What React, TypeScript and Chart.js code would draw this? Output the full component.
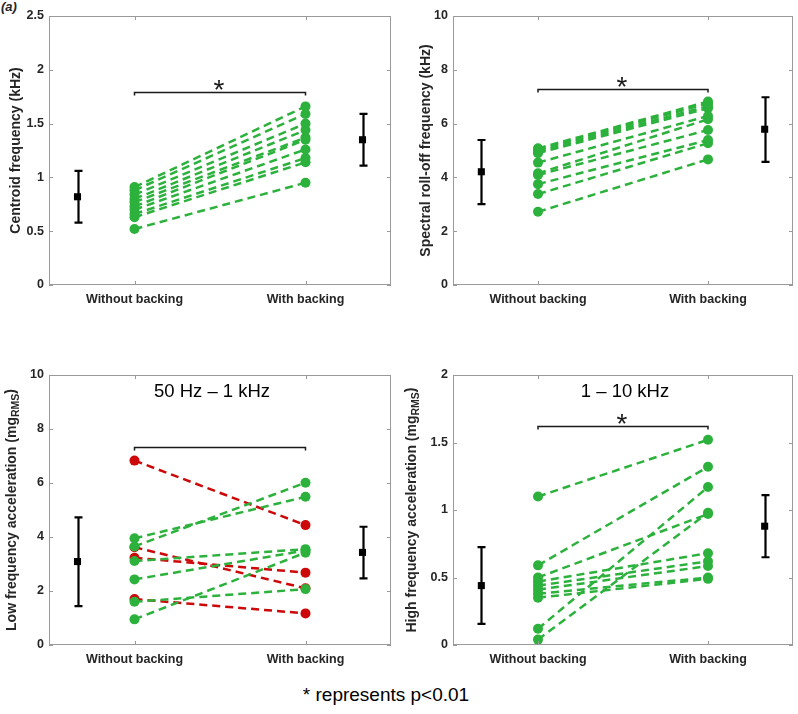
import React, { useEffect, useRef } from 'react';
import { Chart, registerables } from 'chart.js';

Chart.register(...registerables);

// ---------- data ----------
const categories = ['Without backing', 'With backing'];
const categoryX = [1, 2];
const meanX = [2 / 3, 7 / 3];

const centroidWithout = [0.52, 0.63, 0.66, 0.70, 0.73, 0.77, 0.80, 0.84, 0.88, 0.91];
const centroidWith = [0.95, 1.14, 1.18, 1.26, 1.35, 1.37, 1.44, 1.50, 1.59, 1.66];
const centroidMean = [0.82, 1.35];
const centroidLow = [0.58, 1.11];
const centroidHigh = [1.06, 1.59];

const rolloffWithout = [2.72, 3.38, 3.75, 4.09, 4.15, 4.55, 4.90, 4.96, 5.02, 5.08];
const rolloffWith = [4.67, 5.27, 5.39, 5.76, 6.16, 6.28, 6.57, 6.65, 6.75, 6.82];
const rolloffMean = [4.21, 5.79];
const rolloffLow = [3.01, 4.58];
const rolloffHigh = [5.39, 6.98];

const lowFreqWithout = [3.95, 3.65, 3.11, 2.43, 1.60, 0.95, 6.83, 3.62, 3.23, 1.70];
const lowFreqWith = [5.49, 6.01, 3.55, 3.50, 2.07, 3.42, 4.44, 2.10, 2.68, 1.17];
const lowFreqMean = [3.09, 3.43];
const lowFreqLow = [1.44, 2.47];
const lowFreqHigh = [4.73, 4.38];

const highFreqWithout = [1.10, 0.59, 0.50, 0.47, 0.44, 0.41, 0.38, 0.35, 0.12, 0.04];
const highFreqWith = [1.52, 1.32, 0.97, 0.68, 0.62, 0.585, 0.50, 0.49, 1.17, 0.98];
const highFreqMean = [0.44, 0.88];
const highFreqLow = [0.156, 0.65];
const highFreqHigh = [0.725, 1.11];

const yMaxes = [2.5, 10, 10, 2];
const ySteps = [0.5, 2, 2, 0.5];
const bracketLevels = [1.79, 7.27, 7.35, 1.62];
const significant = [true, true, false, true];

// ---------- styles ----------
const GREEN = 'rgb(44,178,60)';
const RED = 'rgb(204,8,8)';
const FONT = '"Liberation Sans", Arial, Helvetica, sans-serif';
const TEXT = '#262626';
const BOX = '#9a9a9a';

type PanelProps = {
  left: number; top: number; width: number; height: number;
  yAxisWidth: number; padRight: number; padTop: number; xAxisHeight: number;
  yMax: number; yStep: number;
  without: number[]; withB: number[];
  mean: number[]; lo: number[]; hi: number[];
  bracketY: number; sig: boolean;
  yTitle: string; yTitleSub?: string; yTitleAfter?: string; yTitleX: number;
  title?: string; titleX?: number; titleY?: number;
};

function Panel(p: PanelProps) {
  const ref = useRef<HTMLCanvasElement>(null);
  useEffect(() => {
    const canvas = ref.current!;
    const n = p.without.length;
    const idx = Array.from({ length: n }, (_, i) => i);
    const ups = idx.filter((i) => p.withB[i] >= p.without[i]);
    const downs = idx.filter((i) => p.withB[i] < p.without[i]);
    const datasets: any[] = [];
    for (const i of [...ups, ...downs]) {
      const col = p.withB[i] >= p.without[i] ? GREEN : RED;
      datasets.push({
        data: [
          { x: categoryX[0], y: p.without[i] },
          { x: categoryX[1], y: p.withB[i] },
        ],
        showLine: true,
        borderColor: col,
        borderWidth: 2.5,
        borderDash: [8, 5],
        pointRadius: 5,
        pointHoverRadius: 5,
        pointBackgroundColor: col,
        pointBorderWidth: 0,
      });
    }
    datasets.push({
      data: meanX.map((x, i) => ({ x, y: p.mean[i] })),
      showLine: false,
      pointStyle: 'rect',
      pointRadius: 5,
      pointHoverRadius: 5,
      pointBackgroundColor: '#000',
      pointBorderWidth: 0,
    });

    const decor = {
      id: 'decor',
      beforeDatasetsDraw(chart: any) {
        const { ctx, scales } = chart;
        const x = scales.x, y = scales.y;
        ctx.save();
        ctx.strokeStyle = '#000';
        ctx.lineWidth = 2.2;
        for (let i = 0; i < meanX.length; i++) {
          const px = Math.round(x.getPixelForValue(meanX[i])) + 0.5;
          const pl = y.getPixelForValue(p.lo[i]);
          const ph = y.getPixelForValue(p.hi[i]);
          ctx.beginPath();
          ctx.moveTo(px, pl); ctx.lineTo(px, ph);
          ctx.moveTo(px - 4, pl); ctx.lineTo(px + 4, pl);
          ctx.moveTo(px - 4, ph); ctx.lineTo(px + 4, ph);
          ctx.stroke();
        }
        // bracket
        const by = Math.round(y.getPixelForValue(p.bracketY)) + 0.5;
        const bx1 = x.getPixelForValue(categoryX[0]);
        const bx2 = x.getPixelForValue(categoryX[1]);
        ctx.strokeStyle = '#1a1a1a';
        ctx.lineWidth = 1.5;
        ctx.beginPath();
        ctx.moveTo(bx1, by + 3); ctx.lineTo(bx1, by); ctx.lineTo(bx2, by); ctx.lineTo(bx2, by + 3);
        ctx.stroke();
        if (p.sig) {
          ctx.font = `28px ${FONT}`;
          ctx.fillStyle = '#1a1a1a';
          ctx.textAlign = 'center';
          ctx.textBaseline = 'alphabetic';
          const m = ctx.measureText('*');
          const bottom = by - 3;
          ctx.fillText('*', (bx1 + bx2) / 2 - 1, bottom - m.actualBoundingBoxDescent);
        }
        ctx.restore();
      },
      afterDraw(chart: any) {
        const { ctx, chartArea: ca, scales } = chart;
        const x = scales.x, y = scales.y;
        ctx.save();
        // box
        ctx.strokeStyle = BOX;
        ctx.lineWidth = 1;
        ctx.strokeRect(ca.left + 0.5, ca.top + 0.5, ca.right - ca.left - 1, ca.bottom - ca.top - 1);
        ctx.beginPath();
        for (const t of y.ticks) {
          const py = Math.round(y.getPixelForValue(t.value)) + 0.5;
          ctx.moveTo(ca.left, py); ctx.lineTo(ca.left + 4, py);
          ctx.moveTo(ca.right, py); ctx.lineTo(ca.right - 4, py);
        }
        for (const v of categoryX) {
          const px = Math.round(x.getPixelForValue(v)) + 0.5;
          ctx.moveTo(px, ca.bottom); ctx.lineTo(px, ca.bottom - 4);
          ctx.moveTo(px, ca.top); ctx.lineTo(px, ca.top + 4);
        }
        ctx.stroke();
        // y title
        const mainFont = `bold 14px ${FONT}`;
        const subFont = `bold 10.5px ${FONT}`;
        ctx.fillStyle = TEXT;
        ctx.translate(p.yTitleX, (ca.top + ca.bottom) / 2);
        ctx.rotate(-Math.PI / 2);
        ctx.textBaseline = 'middle';
        ctx.textAlign = 'left';
        ctx.font = mainFont;
        const w1 = ctx.measureText(p.yTitle).width;
        let w2 = 0, w3 = 0;
        if (p.yTitleSub) {
          ctx.font = subFont;
          w2 = ctx.measureText(p.yTitleSub).width;
          ctx.font = mainFont;
          w3 = ctx.measureText(p.yTitleAfter || '').width;
        }
        let cx = -(w1 + w2 + w3) / 2;
        ctx.font = mainFont;
        ctx.fillText(p.yTitle, cx, 0);
        cx += w1;
        if (p.yTitleSub) {
          ctx.font = subFont;
          ctx.fillText(p.yTitleSub, cx, 4);
          cx += w2;
          ctx.font = mainFont;
          ctx.fillText(p.yTitleAfter || '', cx, -1);
        }
        ctx.restore();
        // panel title
        if (p.title) {
          ctx.save();
          ctx.font = `18.5px ${FONT}`;
          ctx.fillStyle = '#000';
          ctx.textAlign = 'center';
          ctx.textBaseline = 'middle';
          ctx.fillText(p.title, p.titleX, p.titleY);
          ctx.restore();
        }
      },
    };

    const chart = new Chart(canvas, {
      type: 'scatter',
      data: { datasets },
      options: {
        responsive: false,
        animation: false,
        events: [],
        layout: { padding: { left: 0, right: p.padRight, top: p.padTop, bottom: 0 } },
        plugins: { legend: { display: false }, tooltip: { enabled: false } },
        scales: {
          x: {
            type: 'linear',
            min: 0.5,
            max: 2.5,
            afterBuildTicks: (s: any) => { s.ticks = categoryX.map((v) => ({ value: v })); },
            afterFit: (s: any) => { s.height = p.xAxisHeight; },
            grid: { display: false, drawTicks: false },
            border: { display: false },
            ticks: {
              autoSkip: false,
              maxRotation: 0,
              padding: 7,
              color: TEXT,
              font: { family: FONT, size: 12.5, weight: 'bold' },
              callback: (v: any) => categories[categoryX.indexOf(v)] ?? '',
            },
          },
          y: {
            type: 'linear',
            min: 0,
            max: p.yMax,
            afterFit: (s: any) => { s.width = p.yAxisWidth; },
            grid: { display: false, drawTicks: false },
            border: { display: false },
            ticks: {
              stepSize: p.yStep,
              padding: 5,
              color: TEXT,
              font: { family: FONT, size: 12.5, weight: 'bold' },
              callback: (v: any) => String(Math.round(Number(v) * 100) / 100),
            },
          },
        },
      } as any,
      plugins: [decor],
    });
    return () => chart.destroy();
  }, []);
  return (
    <canvas
      ref={ref}
      width={p.width}
      height={p.height}
      style={{ position: 'absolute', left: p.left, top: p.top, width: p.width, height: p.height }}
    />
  );
}

export default function App() {
  return (
    <div style={{ position: 'fixed', left: 0, top: 0, width: 798, height: 714, background: '#fff', overflow: 'hidden' }}>
      <div style={{ position: 'absolute', left: 1, top: 0, font: `italic bold 13px ${FONT}`, lineHeight: '14px', color: TEXT }}>(a)</div>
      <Panel left={0} top={0} width={400} height={320} yAxisWidth={49} padRight={9} padTop={16} xAxisHeight={35}
        yMax={yMaxes[0]} yStep={ySteps[0]} without={centroidWithout} withB={centroidWith}
        mean={centroidMean} lo={centroidLow} hi={centroidHigh} bracketY={bracketLevels[0]} sig={significant[0]}
        yTitle="Centroid frequency (kHz)" yTitleX={16} />
      <Panel left={400} top={0} width={398} height={320} yAxisWidth={53} padRight={5} padTop={16} xAxisHeight={35}
        yMax={yMaxes[1]} yStep={ySteps[1]} without={rolloffWithout} withB={rolloffWith}
        mean={rolloffMean} lo={rolloffLow} hi={rolloffHigh} bracketY={bracketLevels[1]} sig={significant[1]}
        yTitle="Spectral roll-off frequency (kHz)" yTitleX={26} />
      <Panel left={0} top={330} width={400} height={350} yAxisWidth={49} padRight={9} padTop={45} xAxisHeight={35}
        yMax={yMaxes[2]} yStep={ySteps[2]} without={lowFreqWithout} withB={lowFreqWith}
        mean={lowFreqMean} lo={lowFreqLow} hi={lowFreqHigh} bracketY={bracketLevels[2]} sig={significant[2]}
        yTitle="Low frequency acceleration (mg" yTitleSub="RMS" yTitleAfter=")" yTitleX={12}
        title="50 Hz – 1 kHz" titleX={212} titleY={62} />
      <Panel left={400} top={330} width={398} height={350} yAxisWidth={53} padRight={5} padTop={45} xAxisHeight={35}
        yMax={yMaxes[3]} yStep={ySteps[3]} without={highFreqWithout} withB={highFreqWith}
        mean={highFreqMean} lo={highFreqLow} hi={highFreqHigh} bracketY={bracketLevels[3]} sig={significant[3]}
        yTitle="High frequency acceleration (mg" yTitleSub="RMS" yTitleAfter=")" yTitleX={12}
        title="1 – 10 kHz" titleX={225} titleY={62} />
      <div style={{ position: 'absolute', left: 0, width: 772, top: 684, textAlign: 'center', font: `19px ${FONT}`, lineHeight: '22px', color: '#000' }}>
        * represents p&lt;0.01
      </div>
    </div>
  );
}
